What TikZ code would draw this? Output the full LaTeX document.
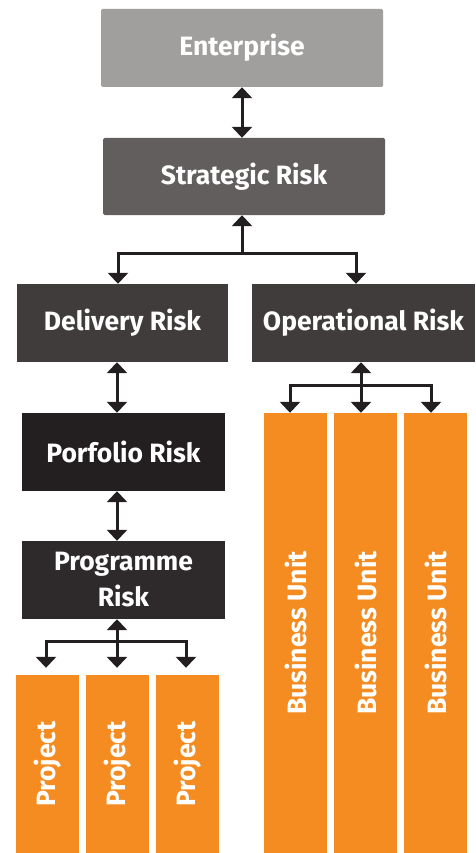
\documentclass[tikz,border=0pt]{standalone}
\usepackage{fontspec}
\setmainfont{Fira Sans}
\usetikzlibrary{arrows.meta}
\definecolor{entgrey}{HTML}{A09F9D}
\definecolor{strgrey}{HTML}{625E5D}
\definecolor{midgrey}{HTML}{403C3B}
\definecolor{darkgrey}{HTML}{231F20}
\definecolor{proggrey}{HTML}{2E2A2B}
\definecolor{riskorange}{HTML}{F58C21}

\begin{document}
\begin{tikzpicture}[x=1pt,y=-1pt,
    >={Triangle[width=20pt,length=11pt]},
    b/.style={fill=#1,inner sep=0pt,text=white,align=center,
      font=\fontsize{26.5}{36}\selectfont\bfseries},
    r/.style={b=#1,minimum height=78pt},
    u/.style={b=riskorange,rotate=90,minimum height=63pt},
    a/.style={line width=3pt,draw=darkgrey,line join=miter}]
    \useasboundingbox (0,0) rectangle (475,853);
    % top of the tree
    \node[r=entgrey,minimum width=282pt,rounded corners=1.5pt] (ent) at (242,48) {Enterprise};
    \node[r=strgrey,minimum width=282pt,minimum height=77pt,rounded corners=1.5pt] (str) at (244,176.5) {Strategic Risk};
    \node[r=midgrey,minimum width=211pt] (del) at (122.5,323) {Delivery Risk};
    \node[r=midgrey,minimum width=223pt] (ops) at (363.5,323) {Operational Risk};
    % delivery side
    \node[r=darkgrey,minimum width=203pt] (port) at (123.5,452) {Porfolio Risk};
    \node[r=proggrey,minimum width=203pt] (prog) at (123.5,580) {Programme\\Risk};
    \foreach \i/\x in {1/47.5,2/117.5,3/187.5}
      \node[u,minimum width=178pt] (proj\i) at (\x,764) {Project};
    % operational side
    \foreach \i/\x in {1/295.5,2/365.5,3/435.5}
      \node[u,minimum width=440pt] (bu\i) at (\x,633) {Business Unit};

    \coordinate (sj) at (242,253);
    \coordinate (sl) at (118,253);
    \coordinate (sr) at (356,253);
    \coordinate (pj) at (117,641);
    \coordinate (pl) at (46,641);
    \coordinate (pr) at (186,641);
    \coordinate (oj) at (361,385);
    \coordinate (ol) at (290,385);
    \coordinate (or) at (431,385);

    \draw[a,<->] (ent) -- (ent |- str.north);
    \draw[a,->] (sj) -- (sj |- str.south);
    \draw[a,<->] (sl |- del.north) -- (sl) -- (sr) -- (sr |- ops.north);
    \draw[a,<->] (pj |- del.south) -- (pj |- port.north);
    \draw[a,<->] (pj |- port.south) -- (pj |- prog.north);
    \draw[a,<->,shorten >=7pt] (pj |- prog.south) -- (pj |- proj2.east);
    \draw[a,<->,shorten <=7pt,shorten >=7pt] (pl |- proj1.east) -- (pl) -- (pr) -- (pr |- proj3.east);
    \draw[a,<->] (oj |- ops.south) -- (oj |- bu2.east);
    \draw[a,<->] (ol |- bu1.east) -- (ol) -- (or) -- (or |- bu3.east);
  \end{tikzpicture}
\end{document}
